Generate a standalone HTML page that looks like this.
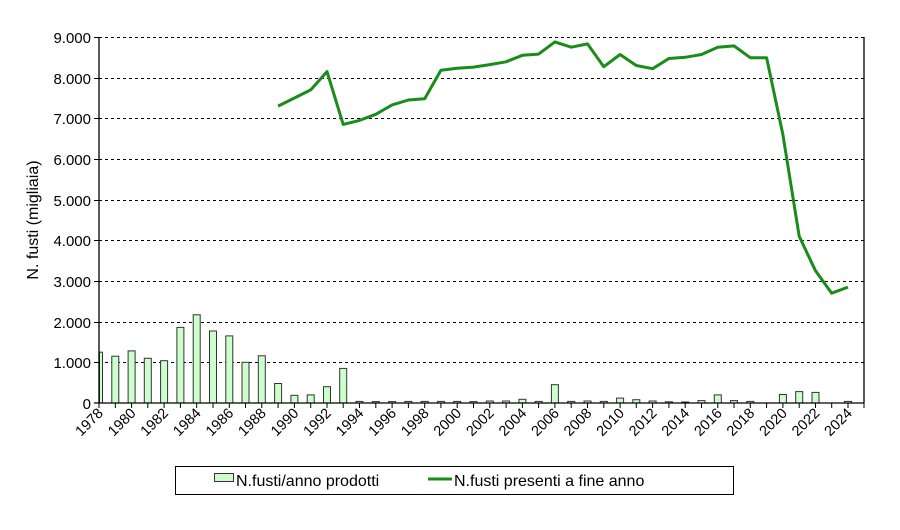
<!DOCTYPE html><html><head><meta charset="utf-8"><style>body{margin:0;background:#fff}svg{display:block;font-family:"Liberation Sans",Arial,sans-serif}</style></head><body>
<svg width="900" height="530" viewBox="0 0 900 530">
<g stroke="#000" stroke-dasharray="3,3" stroke-width="1">
<line x1="99" x2="864" y1="37.5" y2="37.5"/><line x1="99" x2="864" y1="78.5" y2="78.5"/><line x1="99" x2="864" y1="118.5" y2="118.5"/><line x1="99" x2="864" y1="159.5" y2="159.5"/><line x1="99" x2="864" y1="200.5" y2="200.5"/><line x1="99" x2="864" y1="240.5" y2="240.5"/><line x1="99" x2="864" y1="281.5" y2="281.5"/><line x1="99" x2="864" y1="322.5" y2="322.5"/><line x1="99" x2="864" y1="362.5" y2="362.5"/>
</g>
<g fill="#ccffcc" stroke="#333" stroke-width="1">
<rect x="99.5" y="352.2" width="3" height="50.8"/>
<rect x="111.8" y="356.2" width="7" height="46.8"/>
<rect x="128.1" y="350.9" width="7" height="52.1"/>
<rect x="144.3" y="358.3" width="7" height="44.7"/>
<rect x="160.6" y="360.7" width="7" height="42.3"/>
<rect x="176.9" y="327.4" width="7" height="75.6"/>
<rect x="193.2" y="314.8" width="7" height="88.2"/>
<rect x="209.5" y="331" width="7" height="72"/>
<rect x="225.8" y="335.9" width="7" height="67.1"/>
<rect x="242" y="362.3" width="7" height="40.7"/>
<rect x="258.3" y="355.8" width="7" height="47.2"/>
<rect x="274.6" y="383.5" width="7" height="19.5"/>
<rect x="290.9" y="395.3" width="7" height="7.7"/>
<rect x="307.2" y="394.9" width="7" height="8.1"/>
<rect x="323.5" y="386.7" width="7" height="16.3"/>
<rect x="339.7" y="368.4" width="7" height="34.6"/>
<rect x="356" y="401.4" width="7" height="1.6"/>
<rect x="372.3" y="401.6" width="7" height="1.4"/>
<rect x="388.6" y="401.6" width="7" height="1.4"/>
<rect x="404.9" y="401.4" width="7" height="1.6"/>
<rect x="421.2" y="401.4" width="7" height="1.6"/>
<rect x="437.4" y="401.4" width="7" height="1.6"/>
<rect x="453.7" y="401.4" width="7" height="1.6"/>
<rect x="470" y="401.6" width="7" height="1.4"/>
<rect x="486.3" y="401" width="7" height="2"/>
<rect x="502.6" y="401" width="7" height="2"/>
<rect x="518.9" y="399.3" width="7" height="3.7"/>
<rect x="535.1" y="401.4" width="7" height="1.6"/>
<rect x="551.4" y="384.7" width="7" height="18.3"/>
<rect x="567.7" y="401.4" width="7" height="1.6"/>
<rect x="584" y="401" width="7" height="2"/>
<rect x="600.3" y="401.4" width="7" height="1.6"/>
<rect x="616.6" y="398.1" width="7" height="4.9"/>
<rect x="632.8" y="399.7" width="7" height="3.3"/>
<rect x="649.1" y="401" width="7" height="2"/>
<rect x="665.4" y="401.8" width="7" height="1.2"/>
<rect x="681.7" y="402" width="7" height="1"/>
<rect x="698" y="400.6" width="7" height="2.4"/>
<rect x="714.3" y="394.9" width="7" height="8.1"/>
<rect x="730.5" y="400.6" width="7" height="2.4"/>
<rect x="746.8" y="401.4" width="7" height="1.6"/>
<rect x="779.4" y="394.5" width="7" height="8.5"/>
<rect x="795.7" y="391.6" width="7" height="11.4"/>
<rect x="812" y="392.4" width="7" height="10.6"/>
<rect x="844.5" y="401.4" width="7" height="1.6"/>
</g>
<polyline fill="none" stroke="#1a8c1a" stroke-width="3" stroke-linejoin="round" points="278.1,106.1 294.4,98 310.7,89.9 327,71.6 343.2,124.4 359.5,120.4 375.8,114.3 392.1,104.9 408.4,100 424.7,98.8 440.9,70.3 457.2,68.3 473.5,67.1 489.8,64.6 506.1,61.8 522.4,55.3 538.6,54.1 554.9,41.9 571.2,47.2 587.5,43.9 603.8,66.7 620.1,54.5 636.3,65.5 652.6,68.7 668.9,58.5 685.2,57.3 701.5,54.5 717.8,47.2 734,45.9 750.3,57.7 766.6,57.7 782.9,134.6 799.2,236.3 815.5,270.8 831.7,293.2 848,287.1"/>
<g stroke="#000" stroke-width="1.3" fill="none">
<line x1="99" y1="37" x2="99" y2="403"/><line x1="864" y1="37" x2="864" y2="403"/><line x1="94" y1="403" x2="864" y2="403"/>
</g>
<g stroke="#000" stroke-width="1">
<line x1="94" x2="99" y1="37.5" y2="37.5"/><line x1="94" x2="99" y1="78.5" y2="78.5"/><line x1="94" x2="99" y1="118.5" y2="118.5"/><line x1="94" x2="99" y1="159.5" y2="159.5"/><line x1="94" x2="99" y1="200.5" y2="200.5"/><line x1="94" x2="99" y1="240.5" y2="240.5"/><line x1="94" x2="99" y1="281.5" y2="281.5"/><line x1="94" x2="99" y1="322.5" y2="322.5"/><line x1="94" x2="99" y1="362.5" y2="362.5"/>
<path d="M99 403v5M115.3 403v5M131.6 403v5M147.8 403v5M164.1 403v5M180.4 403v5M196.7 403v5M213 403v5M229.3 403v5M245.5 403v5M261.8 403v5M278.1 403v5M294.4 403v5M310.7 403v5M327 403v5M343.2 403v5M359.5 403v5M375.8 403v5M392.1 403v5M408.4 403v5M424.7 403v5M440.9 403v5M457.2 403v5M473.5 403v5M489.8 403v5M506.1 403v5M522.4 403v5M538.6 403v5M554.9 403v5M571.2 403v5M587.5 403v5M603.8 403v5M620.1 403v5M636.3 403v5M652.6 403v5M668.9 403v5M685.2 403v5M701.5 403v5M717.8 403v5M734 403v5M750.3 403v5M766.6 403v5M782.9 403v5M799.2 403v5M815.5 403v5M831.7 403v5M848 403v5M864 403v5"/>
</g>
<g font-size="15" text-anchor="end" fill="#000">
<text x="91" y="43">9.000</text><text x="91" y="84">8.000</text><text x="91" y="124">7.000</text><text x="91" y="165">6.000</text><text x="91" y="206">5.000</text><text x="91" y="246">4.000</text><text x="91" y="287">3.000</text><text x="91" y="328">2.000</text><text x="91" y="368">1.000</text><text x="91" y="409">0</text>
</g>
<text transform="translate(38,220) rotate(-90)" font-size="16" text-anchor="middle">N. fusti (migliaia)</text>
<g font-size="14.5" text-anchor="end">
<text transform="translate(104,414) rotate(-45)">1978</text>
<text transform="translate(136.6,414) rotate(-45)">1980</text>
<text transform="translate(169.1,414) rotate(-45)">1982</text>
<text transform="translate(201.7,414) rotate(-45)">1984</text>
<text transform="translate(234.3,414) rotate(-45)">1986</text>
<text transform="translate(266.8,414) rotate(-45)">1988</text>
<text transform="translate(299.4,414) rotate(-45)">1990</text>
<text transform="translate(332,414) rotate(-45)">1992</text>
<text transform="translate(364.5,414) rotate(-45)">1994</text>
<text transform="translate(397.1,414) rotate(-45)">1996</text>
<text transform="translate(429.7,414) rotate(-45)">1998</text>
<text transform="translate(462.2,414) rotate(-45)">2000</text>
<text transform="translate(494.8,414) rotate(-45)">2002</text>
<text transform="translate(527.4,414) rotate(-45)">2004</text>
<text transform="translate(559.9,414) rotate(-45)">2006</text>
<text transform="translate(592.5,414) rotate(-45)">2008</text>
<text transform="translate(625.1,414) rotate(-45)">2010</text>
<text transform="translate(657.6,414) rotate(-45)">2012</text>
<text transform="translate(690.2,414) rotate(-45)">2014</text>
<text transform="translate(722.8,414) rotate(-45)">2016</text>
<text transform="translate(755.3,414) rotate(-45)">2018</text>
<text transform="translate(787.9,414) rotate(-45)">2020</text>
<text transform="translate(820.5,414) rotate(-45)">2022</text>
<text transform="translate(853,414) rotate(-45)">2024</text>
</g>
<rect x="175.5" y="466.5" width="558" height="28" fill="#fff" stroke="#000"/>
<rect x="214.5" y="473.5" width="19" height="8" fill="#ccffcc" stroke="#333"/>
<text x="236" y="486" font-size="16">N.fusti/anno prodotti</text>
<line x1="428" x2="452" y1="479" y2="479" stroke="#1a8c1a" stroke-width="3"/>
<text x="454" y="486" font-size="16">N.fusti presenti a fine anno</text>
</svg>
</body></html>
